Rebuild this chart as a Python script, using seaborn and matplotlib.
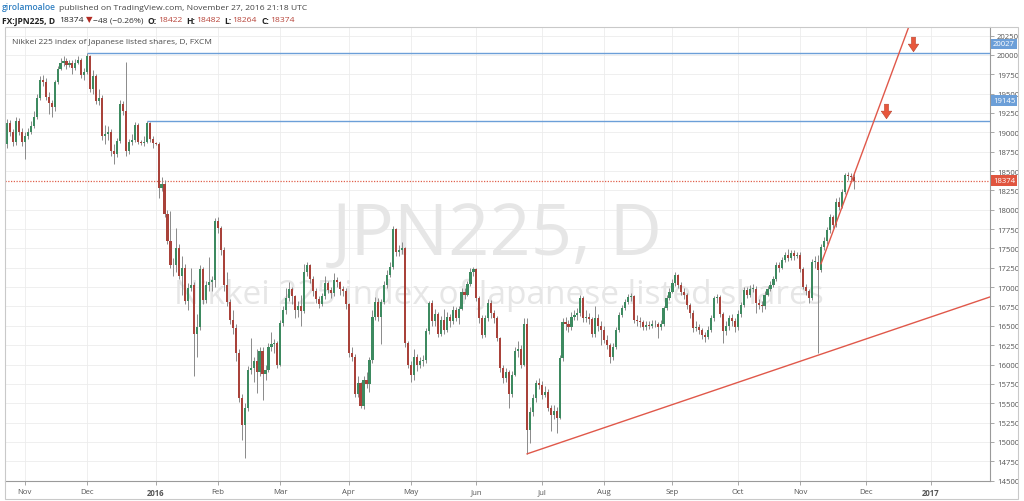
import numpy as np
import pandas as pd
import matplotlib
matplotlib.use("Agg")
import matplotlib.pyplot as plt
from matplotlib.path import Path
from matplotlib.patches import Rectangle
from matplotlib.transforms import blended_transform_factory
import seaborn as sns

# FX:JPN225 daily candles, 23 Oct 2015 - 25 Nov 2016
# open of each day = previous close
FIRST_OPEN = 18850
closes = [
    # Oct 2015
    19120, 19000, 18870, 19150, 19000, 18870,
    # Nov 2015
    18950, 19000, 19080, 19200, 19450, 19680, 19650, 19460, 19380, 19330,
    19650, 19820, 19900, 19920, 19870, 19900, 19830, 19900, 19930, 19740, 19780,
    # Dec 2015
    19980, 19560, 19730, 19400, 19450, 18950, 18980, 19000, 18760, 18720,
    18890, 19370, 19280, 18760, 18880, 18900, 19100, 18880, 18860, 18880,
    19120, 18920, 18860,
    # Jan 2016
    18850, 18280, 18330, 17950, 17600, 17290, 17280, 17500, 17150, 17250,
    16820, 16990, 17030, 16400, 16480, 17240, 16830, 17030, 17060, 17090, 17860,
    # Feb
    17760, 17480, 17030, 16810, 16580, 16470, 16150, 15570, 15220, 15440,
    15930, 15950, 16040, 15900, 16170, 15880, 15930, 16230, 16260, 16280, 16000,
    # Mar
    16540, 16700, 16860, 16980, 16880, 16700, 16760, 16690, 17190, 17280,
    17100, 16950, 16850, 16780, 16890, 17050, 16960, 16920, 17090, 17060,
    16980, 16950, 16780,
    # Apr
    16150, 16100, 15620, 15760, 15470, 15800, 15750, 16060, 16620, 16810,
    16620, 16810, 17030, 17160, 17260, 17757, 17456, 17480, 17500, 16280, 16000,
    # May
    15870, 16100, 15990, 16050, 16060, 16430, 16790, 16560, 16650, 16400,
    16580, 16450, 16620, 16560, 16700, 16600, 16720, 16940, 16900, 17040,
    17200, 17230,
    # Jun
    16860, 16600, 16380, 16600, 16800, 16660, 16600, 16340, 15950, 15820,
    15900, 15620, 15870, 16170, 16200, 16000, 16530, 15160, 15390, 15565,
    15760, 15740,
    # Jul
    15600, 15650, 15440, 15350, 15400, 15310, 16080, 16550, 16520, 16480,
    16620, 16640, 16660, 16855, 16600, 16620, 16590, 16400, 16600, 16500, 16450,
    # Aug
    16320, 16250, 16100, 16230, 16450, 16640, 16725, 16810, 16870, 16880,
    16575, 16560, 16550, 16490, 16510, 16500, 16530, 16520, 16490, 16520,
    16725, 16854, 16940,
    # Sep
    17050, 17155, 17026, 16940, 16900, 16770, 16660, 16470, 16490, 16440,
    16380, 16360, 16450, 16600, 16855, 16870, 16650, 16430, 16500, 16600,
    16560, 16480,
    # Oct
    16650, 16770, 16960, 16900, 16980, 16980, 16790, 16770, 16750, 16900,
    16980, 17030, 17100, 17284, 17250, 17350, 17413, 17380, 17440, 17400, 17420,
    # Nov 2016
    17240, 17005, 16950, 16854, 17327, 17330, 17220, 17520, 17590, 17735,
    17907, 17800, 18100, 18040, 18229, 18444, 18440, 18422, 18374,
]
highs = [
    19170, 19160, 19040, 19200, 19180, 19050,
    19000, 19060, 19140, 19280, 19500, 19730, 19740, 19700, 19520, 19420,
    19680, 19860, 19960, 19990, 19960, 19940, 19930, 19950, 19980, 19960, 19830,
    20027, 20000, 19800, 19760, 19560, 19480, 19100, 19080, 19040, 18850,
    18930, 19420, 19400, 19910, 18920, 18980, 19130, 19120, 18900, 18950,
    19145, 19130, 18950,
    18870, 18870, 18420, 18380, 18000, 17990, 17380, 17760, 17560, 17400,
    17300, 17050, 17250, 17060, 16650, 17280, 17260, 17080, 17390, 17150, 17890,
    17900, 17790, 17520, 17200, 16850, 16700, 16520, 16200, 15620, 15500,
    15980, 16340, 16100, 16200, 16220, 16230, 16000, 16280, 16420, 16330, 16300,
    16580, 16750, 16990, 17060, 17000, 16900, 16820, 16900, 17300, 17330,
    17300, 17150, 16990, 16880, 16930, 17150, 17080, 17000, 17180, 17130,
    17080, 17020, 16990,
    16800, 16220, 16130, 15850, 15780, 15850, 15900, 16100, 16700, 16870,
    16860, 16850, 17080, 17220, 17330, 17790, 17770, 17540, 17580, 17520, 16300,
    16050, 16200, 16130, 16100, 16120, 16470, 16820, 16830, 16720, 16680,
    16630, 16720, 16680, 16650, 16750, 16740, 16760, 16990, 16990, 17080,
    17250, 17263,
    17250, 16890, 16640, 16640, 16850, 16830, 16700, 16630, 16360, 15990,
    15960, 15930, 15920, 16220, 16300, 16250, 16600, 16600, 15450, 15620,
    15800, 15830,
    15790, 15720, 15680, 15480, 15480, 15450, 16120, 16600, 16620, 16580,
    16680, 16700, 16730, 16900, 16880, 16700, 16660, 16620, 16750, 16650, 16560,
    16500, 16380, 16280, 16280, 16490, 16680, 16770, 16850, 16910, 16930,
    16900, 16640, 16620, 16580, 16560, 16560, 16580, 16570, 16550, 16580,
    16760, 16900, 16990,
    17100, 17190, 17170, 17060, 16990, 16930, 16800, 16700, 16560, 16530,
    16470, 16420, 16500, 16640, 16880, 16910, 16900, 16680, 16560, 16640,
    16650, 16600,
    16700, 16810, 17000, 17000, 17030, 17040, 17010, 16850, 16820, 16950,
    17020, 17080, 17150, 17320, 17320, 17390, 17450, 17499, 17480, 17480, 17460,
    17450, 17260, 17040, 16980, 17360, 17400, 17420, 17560, 17650, 17780,
    17950, 17930, 18150, 18160, 18270, 18480, 18490, 18480, 18482,
]
lows = [
    18800, 18950, 18820, 18840, 18960, 18820,
    18650, 18920, 18980, 19050, 19170, 19420, 19600, 19420, 19240, 19200,
    19280, 19620, 19800, 19860, 19820, 19840, 19760, 19800, 19880, 19700, 19680,
    19750, 19520, 19500, 19370, 19350, 18900, 18850, 18900, 18700, 18590,
    18680, 18860, 19230, 18700, 18720, 18840, 18870, 18850, 18840, 18820,
    18860, 18880, 18800,
    18840, 18150, 18240, 17900, 17560, 17250, 17150, 17200, 17100, 16900,
    16780, 16700, 16950, 15850, 16100, 16450, 16780, 16800, 16950, 16950, 17000,
    17700, 17420, 16950, 16750, 16520, 16400, 16050, 15520, 15030, 14790,
    15400, 15880, 15780, 15630, 15850, 15540, 15800, 15900, 16180, 16150, 15950,
    15980, 16500, 16650, 16820, 16780, 16600, 16620, 16500, 16660, 17150,
    17050, 16880, 16800, 16730, 16750, 16850, 16920, 16860, 16890, 17000,
    16900, 16880, 16720,
    16100, 16040, 15580, 15580, 15440, 15430, 15700, 15650, 16020, 16580,
    16560, 16270, 16780, 16990, 17130, 17230, 17400, 17400, 17430, 16230, 15950,
    15780, 15800, 15920, 15950, 15980, 16020, 16400, 16500, 16500, 16350,
    16370, 16400, 16420, 16480, 16530, 16560, 16520, 16700, 16850, 16880,
    17020, 17150,
    16820, 16540, 16340, 16350, 16560, 16600, 16540, 16300, 15900, 15760,
    15780, 15440, 15580, 15850, 16100, 15950, 15980, 14845, 14990, 15330,
    15520, 15680,
    15560, 15580, 15400, 15135, 15300, 15110, 15290, 16050, 16450, 16420,
    16450, 16580, 16580, 16630, 16550, 16550, 16530, 16360, 16350, 16430, 16250,
    16280, 16200, 16020, 16060, 16200, 16420, 16610, 16700, 16780, 16820,
    16540, 16500, 16480, 16440, 16450, 16460, 16470, 16480, 16340, 16450,
    16500, 16700, 16830,
    16920, 17020, 16990, 16900, 16850, 16720, 16600, 16420, 16430, 16400,
    16330, 16290, 16330, 16420, 16560, 16800, 16610, 16274, 16380, 16450,
    16500, 16420,
    16450, 16620, 16740, 16860, 16870, 16940, 16660, 16720, 16680, 16720,
    16880, 16950, 17000, 17080, 17200, 17230, 17330, 17340, 17350, 17350, 17370,
    17200, 16970, 16900, 16800, 16840, 17250, 16147, 17200, 17480, 17560,
    17700, 17760, 17780, 18000, 18020, 18200, 18380, 18370, 18264,
]

# drawings on the chart
resistance_levels = [20027, 19145]
resistance_start = ["2015-12-01", "2015-12-29"]
last_price = 18374
support_points = [("2016-06-24", 14845), ("2016-11-09", 16120)]
steep_points = [("2016-11-10", 17300), ("2016-11-25", 18440)]
arrow_dates = ["2016-12-23", "2016-12-12"]
arrow_levels = [20140, 19280]
badge_levels = [20142, 19407, 18374]
badge_texts = ["20027", "19145", "18374"]
month_labels = ["Nov", "Dec", "2016", "Feb", "Mar", "Apr", "May", "Jun",
                "Jul", "Aug", "Sep", "Oct", "Nov", "Dec", "2017"]

UP, DOWN, WICK = "#3d8a60", "#a9423a", "#8a8a8a"
BLUE, RED = "#6c9fd8", "#e0584a"
FONT = ["Open Sans", "DejaVu Sans"]

sns.set_theme(style="white")
plt.rcParams["font.family"] = FONT

dates = pd.bdate_range("2015-10-23", "2016-11-25")
assert len(dates) == len(closes) == len(highs) == len(lows)
calendar = pd.bdate_range("2015-10-23", "2017-02-28")


def pos(d):
    return int(calendar.get_indexer([pd.Timestamp(d)])[0])


df = pd.DataFrame({
    "pos": np.arange(len(dates)),
    "open": [FIRST_OPEN] + closes[:-1],
    "high": highs,
    "low": lows,
    "close": closes,
})

W, H = 1024, 502
L, R, T, B = 5, 990, 28, 482
XMIN, XMAX = -0.7, 330.9
YMIN, YMAX = 14495, 20361

fig = plt.figure(figsize=(W / 100, H / 100), dpi=100)
fig.patch.set_facecolor("white")
ax = fig.add_axes([L / W, 1 - B / H, (R - L) / W, (B - T) / H])
ax.set_facecolor("white")

# watermark
ax.text(0.4995, 0.542, "JPN225, D", transform=ax.transAxes, ha="center", va="center",
        fontsize=52, color="#e6e6e6", zorder=1)
ax.text(0.501, 0.41, "Nikkei 225 index of Japanese listed shares", transform=ax.transAxes,
        ha="center", va="center", fontsize=24, color="#e6e6e6", zorder=1)

# candles
up = df["close"] >= df["open"]
body_low = np.minimum(df["open"], df["close"])
body_h = np.maximum((df["close"] - df["open"]).abs(), 8)
ax.vlines(df["pos"], df["low"], df["high"], color=WICK, lw=0.7, zorder=3)
ax.bar(df["pos"], body_h, bottom=body_low, width=0.72,
       color=np.where(up, UP, DOWN), linewidth=0, zorder=4)

# horizontal levels
for lvl, start in zip(resistance_levels, resistance_start):
    ax.hlines(lvl, pos(start), XMAX, color=BLUE, lw=1.0, zorder=5)
ax.axhline(last_price, color="#e0604c", lw=0.9, ls=(0, (1, 1.2)), zorder=2)


def ray(points):
    (d0, v0), (d1, v1) = points
    x0, x1 = pos(d0), pos(d1)
    slope = (v1 - v0) / (x1 - x0)
    return [x0, XMAX], [v0, v0 + slope * (XMAX - x0)]


for pts in (support_points, steep_points):
    xs, ys = ray(pts)
    sns.lineplot(x=xs, y=ys, ax=ax, color=RED, linewidth=1.0, zorder=5)

# arrow marks
arrow = Path([(-0.28, 1.0), (0.28, 1.0), (0.28, 0.05), (0.72, 0.05), (0.0, -1.0),
              (-0.72, 0.05), (-0.28, 0.05), (-0.28, 1.0)],
             [Path.MOVETO] + [Path.LINETO] * 6 + [Path.CLOSEPOLY])
ax.scatter([pos(d) for d in arrow_dates], arrow_levels, marker=arrow, s=110,
           color="#e8573c", edgecolor="#b8402b", linewidth=0.4, zorder=6)

# axes, ticks, grid
ax.set_xlim(XMIN, XMAX)
ax.set_ylim(YMIN, YMAX)
firsts = calendar.to_series().groupby(calendar.to_period("M")).first()
firsts = firsts[(firsts >= "2015-11-01") & (firsts <= "2017-01-31")]
ax.set_xticks([pos(d) for d in firsts])
ax.set_xticklabels(month_labels)
for lbl in ax.get_xticklabels():
    if lbl.get_text() in ("2016", "2017"):
        lbl.set_fontweight("bold")
price_ticks = np.arange(14500, 20251, 250)
ax.set_yticks(price_ticks)
ax.set_yticklabels([str(v) for v in price_ticks])
ax.yaxis.tick_right()
ax.tick_params(axis="y", labelsize=5.6, colors="#9a9a9a", labelcolor="#555555",
               length=3, width=0.6, pad=2, right=True, left=False)
ax.tick_params(axis="x", labelsize=5.6, colors="#9a9a9a", labelcolor="#555555",
               length=3, width=0.6, pad=2, bottom=True)
ax.grid(True, color="#ececec", lw=0.6, zorder=0)
ax.set_axisbelow(True)
for side in ("top", "left"):
    ax.spines[side].set_visible(False)
for side in ("right", "bottom"):
    ax.spines[side].set_color("#9a9a9a")
    ax.spines[side].set_linewidth(0.8)

# price badges on the axis
btrans = blended_transform_factory(ax.transAxes, ax.transData)
for lvl, txt, fc in zip(badge_levels, badge_texts, [BLUE, BLUE, "#e0553f"]):
    ax.text(1.003, lvl, txt, transform=btrans, ha="left", va="center", fontsize=5.6,
            color="white", zorder=7, clip_on=False,
            bbox=dict(boxstyle="square,pad=0.25", fc=fc, ec="none"))

# chart container frame
fig.add_artist(Rectangle((L / W, 1 - 500 / H), (1018 - L) / W, (500 - T) / H,
                         transform=fig.transFigure, fill=False, ec="#c9c9c9", lw=0.8))

# legend title inside chart
fig.text(12 / W, 1 - 42 / H, "Nikkei 225 index of Japanese listed shares, D, FXCM",
         fontsize=6.0, color="#4a4a4a", ha="left", va="center")


def text_runs(x_px, y_px, runs, size):
    renderer = fig.canvas.get_renderer()
    x = x_px
    for s, color, weight, gap in runs:
        t = fig.text(x / W, 1 - y_px / H, s, color=color, fontweight=weight,
                     fontsize=size, ha="left", va="center", family=FONT)
        x = t.get_window_extent(renderer).x1 + gap


text_runs(2, 8, [
    ("girolamoaloe", "#2f7fc1", "semibold", 3),
    ("published on TradingView.com, November 27, 2016 21:18 UTC", "#444444", "normal", 0),
], 6.1)
PRED = "#b8463c"
text_runs(2, 21, [
    ("FX:JPN225, D", "#222222", "bold", 4),
    ("18374", "#222222", "normal", 2),
    ("\u25bc", "#b22a22", "normal", 1),
    ("\u221248 (\u22120.26%)", "#333333", "normal", 4),
    ("O:", "#222222", "bold", 1), ("18422", PRED, "normal", 4),
    ("H:", "#222222", "bold", 1), ("18482", PRED, "normal", 4),
    ("L:", "#222222", "bold", 1), ("18264", PRED, "normal", 4),
    ("C:", "#222222", "bold", 1), ("18374", PRED, "normal", 0),
], 6.1)

fig.savefig("out.png", dpi=100)
